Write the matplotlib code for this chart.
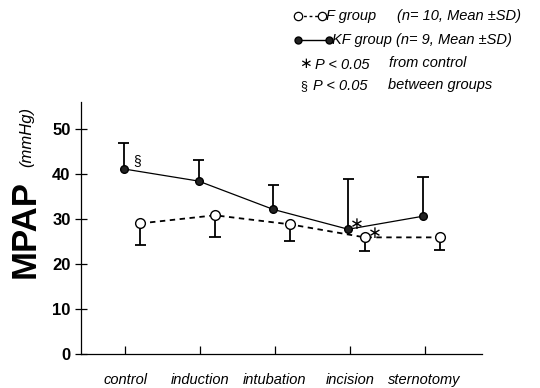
import matplotlib.pyplot as plt
from matplotlib.lines import Line2D

plt.rcParams["font.family"] = ["Liberation Sans", "DejaVu Sans"]

stages = ["control", "induction", "intubation", "incision", "sternotomy"]

# KF group (filled), SD drawn upwards
kf_mean = [41.1, 38.4, 32.1, 27.7, 30.6]
kf_sd = [5.8, 4.7, 5.4, 11.1, 8.7]

# F group (open), SD drawn downwards
f_mean = [29.0, 30.8, 28.8, 25.9, 25.9]
f_sd = [4.9, 4.9, 3.6, 3.1, 2.9]

y_ticks = [0, 10, 20, 30, 40, 50]

fig = plt.figure(figsize=(5.4, 3.88), dpi=100)
ax = fig.add_axes([0.15, 0.0876, 0.743, 0.65])

x = list(range(len(stages)))
x_kf = [i - 0.02 for i in x]
x_f = [i + 0.2 for i in x]
cap = 0.075

# error bars (one sided)
kf_top = [m + s for m, s in zip(kf_mean, kf_sd)]
f_bot = [m - s for m, s in zip(f_mean, f_sd)]
ax.vlines(x_kf, kf_mean, kf_top, color="black", lw=1.3, zorder=2)
ax.hlines(kf_top, [v - cap for v in x_kf], [v + cap for v in x_kf], color="black", lw=1.3, zorder=2)
ax.vlines(x_f, f_bot, f_mean, color="black", lw=1.3, zorder=2)
ax.hlines(f_bot, [v - cap for v in x_f], [v + cap for v in x_f], color="black", lw=1.3, zorder=2)

ax.plot(x_f, f_mean, color="black", lw=1.3, ls=(0, (3, 2.5)), marker="o", ms=7,
        mfc="white", mec="black", mew=1.0, zorder=3)
ax.plot(x_kf, kf_mean, color="black", lw=0.9, marker="o", ms=5.5,
        mfc="#222222", mec="black", zorder=4)

# significance marks
ax.annotate("§", (x_kf[0], kf_mean[0]), xytext=(10, 6), textcoords="offset points",
            ha="center", va="center", fontsize=10)
ax.annotate("\u2217", (x_kf[3], kf_mean[3]), xytext=(6, 4), textcoords="offset points",
            ha="center", va="center", fontsize=12, family="DejaVu Sans")
ax.annotate("\u2217", (x_f[3], f_mean[3]), xytext=(7, 3), textcoords="offset points",
            ha="center", va="center", fontsize=12, family="DejaVu Sans")

ax.set_xlim(-0.59, 4.77)
ax.set_ylim(0, 56)
ax.set_xticks(x)
ax.set_xticklabels(stages, fontstyle="italic", fontsize=10.5)
ax.set_yticks(y_ticks)
ax.set_yticklabels([str(v) for v in y_ticks], fontweight="bold", fontsize=12)
ax.tick_params(axis="x", direction="in", length=6, width=0.9, pad=14)
ax.tick_params(axis="y", direction="inout", length=9, width=0.9, pad=3)
ax.spines["top"].set_visible(False)
ax.spines["right"].set_visible(False)
for s in ("left", "bottom"):
    ax.spines[s].set_linewidth(0.9)

fig.text(0.046, 0.41, "MPAP", rotation=90, ha="center", va="center",
         fontsize=25, fontweight="bold")
fig.text(0.05, 0.647, "(mmHg)", rotation=90, ha="center", va="center",
         fontsize=12, fontstyle="italic")

# legend block
W, H = 540, 388
def fx(px):
    return px / W
def fy(py):
    return 1 - py / H

fig.add_artist(Line2D([fx(298), fx(322)], [fy(16), fy(16)], color="black", lw=1.0,
                      ls=(0, (2, 2)), marker="o", ms=6, mfc="white", mec="black", mew=0.9))
fig.text(fx(326), fy(16), "F group", fontsize=10.5, fontstyle="italic", va="center")
fig.text(fx(397), fy(16), "(n= 10, Mean \u00b1SD)", fontsize=10.5, fontstyle="italic", va="center")

fig.add_artist(Line2D([fx(298), fx(329)], [fy(40), fy(40)], color="black", lw=1.0,
                      marker="o", ms=5, mfc="#222222", mec="black"))
fig.text(fx(332), fy(40), "KF group (n= 9, Mean \u00b1SD)", fontsize=10.5, fontstyle="italic", va="center")

fig.text(fx(305), fy(64), "\u2217", fontsize=11, va="center", ha="center", family="DejaVu Sans")
fig.text(fx(315), fy(65), "P < 0.05", fontsize=10.5, fontstyle="italic", va="center")
fig.text(fx(389), fy(63), "from control", fontsize=10.5, fontstyle="italic", va="center")

fig.text(fx(304), fy(86), "§", fontsize=9, va="center", ha="center")
fig.text(fx(313), fy(86), "P < 0.05", fontsize=10.5, fontstyle="italic", va="center")
fig.text(fx(388), fy(85), "between groups", fontsize=10.5, fontstyle="italic", va="center")

fig.savefig("out.png", dpi=100)
